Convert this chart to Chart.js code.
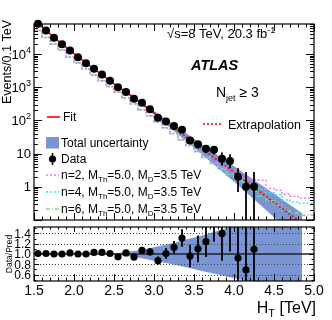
<!DOCTYPE html>
<html><head><meta charset="utf-8">
<script src="https://cdn.jsdelivr.net/npm/chart.js@4.4.1/dist/chart.umd.min.js"></script>
<style>
html,body{margin:0;padding:0;background:#fff;overflow:hidden;}
#wrap{position:relative;width:332px;height:320px;background:#fff;}
canvas{position:absolute;left:0;}
#cMain{top:0;}
#cRatio{top:223px;}
</style></head><body>
<div id="wrap">
<canvas id="cMain" width="332" height="224"></canvas>
<canvas id="cRatio" width="332" height="97"></canvas>
</div>
<script>
const FONT = "'Liberation Sans', Arial, Helvetica, sans-serif";

// ---------------- data ----------------
const binEdges = [1.5,1.6,1.7,1.8,1.9,2.0,2.1,2.2,2.3,2.4,2.5,2.6,2.7,2.8,2.9,3.0,3.1,3.2,3.3,3.4,3.5,3.6,3.7,3.8,3.9,4.0,4.1,4.2,4.3,4.4,4.5,4.6,4.7,4.8,4.9,5.0];

const dataHT     = [1.55,1.65,1.75,1.85,1.95,2.05,2.15,2.25,2.35,2.45,2.55,2.65,2.75,2.85,2.95,3.05,3.15,3.25,3.35,3.45,3.55,3.65,3.75,3.85,3.95,4.05,4.15,4.25];
const dataEvents = [81000,51000,31000,19700,12800,8000,5300,3600,2400,1560,1000,720,450,340,215,120,92,68,52,25,19,14,13,7,6,2,1,1];
const dataErrLo  = [285,226,176,140,113,89,73,60,49,39,32,27,21,18,15,11,9.6,8.2,7.2,5,4.4,3.7,3.6,2.6,2.4,1.3,1,1];
const dataErrHi  = [285,226,176,140,113,89,73,60,49,39,32,27,21,18,15,11,9.6,8.2,7.2,5,4.4,3.7,3.6,3.8,3.6,1.6,1.8,1.8];

const ratioVals  = [1.01,1.01,1.00,1.00,1.02,1.00,1.00,1.03,1.03,1.01,0.945,1.02,0.94,1.07,1.04,0.87,1.01,1.13,1.31,0.96,1.10,1.24,1.71,1.40,1.80,0.92,0.69,1.09];
const ratioErrLo = [0.004,0.005,0.006,0.007,0.009,0.011,0.014,0.017,0.021,0.026,0.031,0.038,0.044,0.058,0.071,0.079,0.105,0.125,0.17,0.22,0.26,0.30,0.47,0.53,0.75,0.65,0.69,1.09];
const ratioErrHi = [0.004,0.005,0.006,0.007,0.009,0.011,0.014,0.017,0.021,0.026,0.031,0.038,0.044,0.058,0.071,0.079,0.105,0.125,0.17,0.22,0.26,0.30,0.47,0.65,0.90,1.20,1.60,2.50];

// fit (solid) and extrapolation (dotted)
const fitHT    = [1.5,1.6,1.7,1.8,1.9,2.0,2.1,2.2,2.3,2.4,2.5,2.6,2.7,2.8,2.9,3.0];
const fitVals  = [102000,64600,40300,25100,16000,10230,6610,4370,2880,1905,1270,860,582,389,257,170];
const extrapHT   = [3.0,3.1,3.2,3.3,3.4,3.5,3.6,3.7,3.8,3.9,4.0,4.1,4.2,4.3,4.4,4.5,4.6,4.7,4.8];
const extrapVals = [170,112,74,49,32.4,21.4,14.1,9.3,6.2,4.1,2.7,1.78,1.17,0.78,0.51,0.34,0.22,0.148,0.098];

// total uncertainty band
const bandHT       = [2.45,2.6,2.8,3.0,3.2,3.4,3.6,3.8,4.0,4.2,4.4,4.6,4.85];
const bandMainHi   = [1549,887,416,192,88.9,41.4,19.2,8.93,4.17,1.94,0.90,0.42,0.159];
const bandMainLo   = [1549,836,361,148,60,23.9,9.46,3.70,1.43,0.54,0.20,0.072,0.020];
const bandRatioHi  = [1.00,1.03,1.07,1.13,1.20,1.28,1.36,1.45,1.55,1.65,1.76,1.87,2.00];
const bandRatioLo  = [1.00,0.97,0.93,0.87,0.81,0.74,0.67,0.60,0.53,0.46,0.39,0.32,0.25];

// signal + background histograms (per bin, 35 bins)
const sigN2 = [81300,51300,31600,19950,12900,8130,5370,3550,2340,1550,1050,710,480,316,209,138,91,60,40,26,17.4,11.5,7.9,5.5,4.0,2.9,2.5,1.78,1.66,1.58,0.89,0.79,0.60,0.52,0.46];
const sigN4 = [81300,51300,31600,19950,12900,8130,5370,3550,2340,1550,1050,710,480,316,209,138,91,60,40,26,17.4,11.5,7.6,5.1,3.55,2.4,1.66,1.32,1.05,0.83,0.66,0.58,0.40,0.35,0.32];
const sigN6 = [81300,51300,31600,19950,12900,8130,5370,3550,2340,1550,1050,710,480,316,209,138,91,60,40,26,17.4,11.5,7.6,5.0,3.3,2.2,1.48,1.0,0.76,0.52,0.38,0.28,0.19,0.16,0.14];

// tick labels
const xTickValues = [1.5,2.0,2.5,3.0,3.5,4.0,4.5,5.0];
const xTickLabels = ["1.5","2.0","2.5","3.0","3.5","4.0","4.5","5.0"];
const yTickValues = [1,10,100,1000,10000];
const yTickBase   = ["1","10","10","10","10"];
const yTickExp    = ["","","2","3","4"];
const rTickValues = [0.6,0.8,1.0,1.2,1.4];
const rTickLabels = ["0.6","0.8","1.0","1.2","1.4"];

// colours
const C_BAND = 'rgb(122,149,211)';
const C_FIT = '#ff0000';
const C_N2 = '#f27af2';
const C_N4 = '#3fe6ee';
const C_N6 = '#86d986';

// -------------- helpers --------------
const pts = (xs, ys) => xs.map((x, i) => ({x: x, y: ys[i]}));
const hist = (vals) => binEdges.map((e, i) => ({x: e, y: vals[Math.min(i, vals.length - 1)]}));

function rich(ctx, x, y, parts, align) {
  let w = 0;
  parts.forEach(p => { ctx.font = (p.f || '') + ' ' + p.s + 'px ' + FONT; p.w = ctx.measureText(p.t).width; w += p.w; });
  let cx = align === 'right' ? x - w : (align === 'center' ? x - w / 2 : x);
  ctx.textAlign = 'left'; ctx.textBaseline = 'alphabetic'; ctx.fillStyle = '#000';
  parts.forEach(p => { ctx.font = (p.f || '') + ' ' + p.s + 'px ' + FONT; ctx.fillText(p.t, cx, y + (p.dy || 0)); cx += p.w; });
}

function drawErrBars(chart, xs, vals, lo, hi, width) {
  const {ctx, chartArea: a, scales: {x, y}} = chart;
  ctx.save();
  ctx.beginPath(); ctx.rect(a.left, a.top, a.right - a.left, a.bottom - a.top); ctx.clip();
  ctx.strokeStyle = '#000'; ctx.lineWidth = width;
  ctx.beginPath();
  for (let i = 0; i < xs.length; i++) {
    const px = x.getPixelForValue(xs[i]);
    const vl = vals[i] - lo[i];
    const y1 = vl > 0 ? y.getPixelForValue(vl) : a.bottom + 5;
    const y2 = y.getPixelForValue(vals[i] + hi[i]);
    ctx.moveTo(px, y1); ctx.lineTo(px, y2);
  }
  ctx.stroke();
  ctx.restore();
}

function xTicks(chart, majTop, minTop, majBot, minBot) {
  const {ctx, chartArea: a, scales: {x}} = chart;
  ctx.beginPath();
  for (let k = 15; k <= 50; k++) {
    const px = Math.round(x.getPixelForValue(k / 10)) + 0.5;
    const maj = k % 5 === 0;
    const lt = maj ? majTop : minTop, lb = maj ? majBot : minBot;
    ctx.moveTo(px, a.top); ctx.lineTo(px, a.top + lt);
    ctx.moveTo(px, a.bottom); ctx.lineTo(px, a.bottom - lb);
  }
  ctx.stroke();
}

function frame(chart) {
  const {ctx, chartArea: a} = chart;
  ctx.strokeStyle = '#000'; ctx.lineWidth = 1.2;
  ctx.strokeRect(a.left, a.top, a.right - a.left, a.bottom - a.top);
}

// -------------- main chart plugin --------------
const mainDecor = {
  id: 'mainDecor',
  beforeDatasetDraw(chart, args) {
    if (chart.data.datasets[args.index].label !== 'Data') return;
    drawErrBars(chart, dataHT, dataEvents, dataErrLo, dataErrHi, 1.8);
  },
  afterDraw(chart) {
    const {ctx, chartArea: a, scales: {x, y}} = chart;
    ctx.save();
    frame(chart);
    ctx.lineWidth = 1;
    xTicks(chart, 7, 3.5, 7, 3.5);
    ctx.beginPath();
    for (let e = -1; e <= 4; e++) {
      for (let m = 1; m <= 9; m++) {
        const v = m * Math.pow(10, e);
        if (v < 0.1 || v > 80000) continue;
        const py = Math.round(y.getPixelForValue(v)) + 0.5;
        const L = m === 1 ? 8 : 4;
        ctx.moveTo(a.left, py); ctx.lineTo(a.left + L, py);
        ctx.moveTo(a.right, py); ctx.lineTo(a.right - L, py);
      }
    }
    ctx.stroke();
    yTickValues.forEach((v, i) => {
      const py = y.getPixelForValue(v);
      const parts = [{t: yTickBase[i], s: 13}];
      if (yTickExp[i]) parts.push({t: yTickExp[i], s: 9, dy: -6});
      rich(ctx, 31, py + 4.6, parts, 'right');
    });
    ctx.save();
    ctx.translate(11, 20); ctx.rotate(-Math.PI / 2);
    ctx.font = '12.5px ' + FONT; ctx.fillStyle = '#000'; ctx.textAlign = 'right'; ctx.textBaseline = 'alphabetic';
    ctx.fillText('Events/0.1 TeV', 0, 0);
    ctx.restore();
    rich(ctx, 167, 38, [{t: '\u221As=8 TeV, 20.3 fb', s: 13}, {t: '-1', s: 9, dy: -5}], 'left');
    rich(ctx, 191, 70, [{t: 'ATLAS', s: 14.5, f: 'italic bold'}], 'left');
    rich(ctx, 216, 97, [{t: 'N', s: 14}, {t: 'jet', s: 9, dy: 4}, {t: ' \u2265 3', s: 14}], 'left');
    ctx.strokeStyle = C_FIT; ctx.lineWidth = 1.6; ctx.setLineDash([]);
    ctx.beginPath(); ctx.moveTo(47, 117); ctx.lineTo(60, 117); ctx.stroke();
    rich(ctx, 63, 121, [{t: 'Fit', s: 12}], 'left');
    ctx.setLineDash([2, 2]);
    ctx.beginPath(); ctx.moveTo(203, 124); ctx.lineTo(223, 124); ctx.stroke();
    ctx.setLineDash([]);
    rich(ctx, 228, 128.5, [{t: 'Extrapolation', s: 12.5}], 'left');
    ctx.fillStyle = C_BAND; ctx.fillRect(46, 137, 13, 11.5);
    rich(ctx, 61, 147, [{t: 'Total uncertainty', s: 12}], 'left');
    ctx.strokeStyle = '#000'; ctx.lineWidth = 1.6;
    ctx.beginPath(); ctx.moveTo(52.5, 153); ctx.lineTo(52.5, 165); ctx.stroke();
    ctx.fillStyle = '#000'; ctx.beginPath(); ctx.arc(52.5, 159, 3.6, 0, Math.PI * 2); ctx.fill();
    rich(ctx, 61, 163, [{t: 'Data', s: 12}], 'left');
    const sig = [[C_N2, [2, 2], 175, '2'], [C_N4, [2, 2], 192, '4'], [C_N6, [4, 2, 1, 2], 209, '6']];
    sig.forEach(s => {
      ctx.strokeStyle = s[0]; ctx.lineWidth = 1.6; ctx.setLineDash(s[1]);
      ctx.beginPath(); ctx.moveTo(46, s[2]); ctx.lineTo(59, s[2]); ctx.stroke();
      ctx.setLineDash([]);
      rich(ctx, 61, s[2] + 4, [
        {t: 'n=' + s[3] + ', M', s: 12}, {t: 'Th', s: 8, dy: 3},
        {t: '=5.0, M', s: 12}, {t: 'D', s: 8, dy: 3}, {t: '=3.5 TeV', s: 12}], 'left');
    });
    ctx.restore();
  }
};

// -------------- ratio chart plugin --------------
const ratioDecor = {
  id: 'ratioDecor',
  beforeDatasetDraw(chart, args) {
    if (chart.data.datasets[args.index].label !== 'Ratio') return;
    const {ctx, chartArea: a, scales: {y}} = chart;
    ctx.save();
    ctx.strokeStyle = '#444'; ctx.lineWidth = 1; ctx.setLineDash([1, 2]);
    ctx.beginPath();
    [0.6, 0.8, 1.2, 1.4].forEach(v => {
      const py = Math.round(y.getPixelForValue(v)) + 0.5;
      ctx.moveTo(a.left, py); ctx.lineTo(a.right, py);
    });
    ctx.stroke();
    ctx.setLineDash([]);
    ctx.strokeStyle = '#222'; ctx.lineWidth = 1.5;
    ctx.beginPath();
    const p1 = y.getPixelForValue(1.0);
    ctx.moveTo(a.left, p1); ctx.lineTo(a.right, p1); ctx.stroke();
    ctx.restore();
    drawErrBars(chart, dataHT, ratioVals, ratioErrLo, ratioErrHi, 1.8);
  },
  afterDraw(chart) {
    const {ctx, chartArea: a, scales: {x, y}} = chart;
    ctx.save();
    frame(chart);
    ctx.lineWidth = 1;
    xTicks(chart, 5, 2.5, 7, 3.5);
    ctx.beginPath();
    for (let k = 5; k <= 15; k++) {
      const py = Math.round(y.getPixelForValue(k / 10)) + 0.5;
      const L = k % 2 === 0 ? 5 : 2.5;
      ctx.moveTo(a.left, py); ctx.lineTo(a.left + L, py);
      ctx.moveTo(a.right, py); ctx.lineTo(a.right - L, py);
    }
    ctx.stroke();
    rTickValues.forEach((v, i) => {
      rich(ctx, 31, y.getPixelForValue(v) + 4.3, [{t: rTickLabels[i], s: 12}], 'right');
    });
    xTickValues.forEach((v, i) => {
      rich(ctx, x.getPixelForValue(v), 72, [{t: xTickLabels[i], s: 14}], 'center');
    });
    rich(ctx, 316, 90, [{t: 'H', s: 16}, {t: 'T', s: 11, dy: 4}, {t: ' [TeV]', s: 16}], 'right');
    ctx.save();
    ctx.translate(12, 31); ctx.rotate(-Math.PI / 2);
    ctx.font = '8.5px ' + FONT; ctx.fillStyle = '#000'; ctx.textAlign = 'center'; ctx.textBaseline = 'alphabetic';
    ctx.fillText('Data/Pred', 0, 0);
    ctx.restore();
    ctx.restore();
  }
};

const commonOpts = {
  responsive: false, animation: false, devicePixelRatio: 1, events: [],
  plugins: {legend: {display: false}, tooltip: {enabled: false}},
};

new Chart(document.getElementById('cMain'), {
  type: 'line',
  data: {
    datasets: [
      {label: 'Data', data: pts(dataHT, dataEvents), showLine: false, pointRadius: 4, pointBackgroundColor: '#000', pointBorderWidth: 0, order: 0, clip: 5},
      {label: 'Fit', data: pts(fitHT, fitVals), borderColor: C_FIT, borderWidth: 1.6, pointRadius: 0, tension: 0.3, order: 2, clip: 0},
      {label: 'Extrapolation', data: pts(extrapHT, extrapVals), borderColor: C_FIT, borderWidth: 1.6, borderDash: [2, 2], pointRadius: 0, tension: 0.3, order: 2, clip: 0},
      {label: 'n=2', data: hist(sigN2), stepped: 'after', borderColor: C_N2, borderWidth: 1.5, borderDash: [2, 2], pointRadius: 0, order: 4, clip: 0},
      {label: 'n=4', data: hist(sigN4), stepped: 'after', borderColor: C_N4, borderWidth: 1.5, borderDash: [2, 2], pointRadius: 0, order: 5, clip: 0},
      {label: 'n=6', data: hist(sigN6), stepped: 'after', borderColor: C_N6, borderWidth: 1.5, borderDash: [4, 2, 1, 2], pointRadius: 0, order: 6, clip: 0},
      {label: 'BandHi', data: pts(bandHT, bandMainHi), borderWidth: 0, pointRadius: 0, backgroundColor: C_BAND, fill: '+1', order: 10, clip: 0},
      {label: 'BandLo', data: pts(bandHT, bandMainLo), borderWidth: 0, pointRadius: 0, backgroundColor: C_BAND, fill: false, order: 11, clip: 0}
    ]
  },
  options: Object.assign({}, commonOpts, {
    layout: {padding: {left: 34, right: 18, top: 24, bottom: 1}},
    scales: {
      x: {type: 'linear', min: 1.5, max: 5.0, display: false},
      y: {type: 'logarithmic', min: 0.1, max: 80000, display: false}
    }
  }),
  plugins: [mainDecor]
});

new Chart(document.getElementById('cRatio'), {
  type: 'line',
  data: {
    datasets: [
      {label: 'Ratio', data: pts(dataHT, ratioVals), showLine: false, pointRadius: 3.6, pointBackgroundColor: '#000', pointBorderWidth: 0, order: 0, clip: 0},
      {label: 'BandHi', data: pts(bandHT, bandRatioHi), borderWidth: 0, pointRadius: 0, backgroundColor: C_BAND, fill: '+1', order: 10, clip: 0},
      {label: 'BandLo', data: pts(bandHT, bandRatioLo), borderWidth: 0, pointRadius: 0, backgroundColor: C_BAND, fill: false, order: 11, clip: 0}
    ]
  },
  options: Object.assign({}, commonOpts, {
    layout: {padding: {left: 34, right: 18, top: 1, bottom: 39}},
    scales: {
      x: {type: 'linear', min: 1.5, max: 5.0, display: false},
      y: {type: 'linear', min: 0.475, max: 1.525, display: false}
    }
  }),
  plugins: [ratioDecor]
});
</script>
</body></html>
